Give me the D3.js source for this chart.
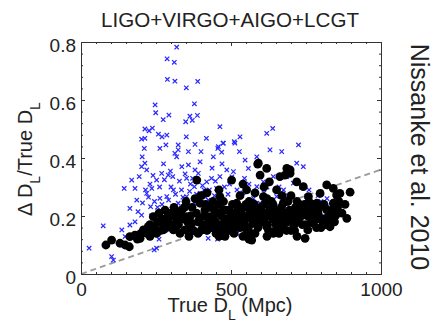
<!DOCTYPE html>
<html>
<head>
<meta charset="utf-8">
<script src="https://cdn.jsdelivr.net/npm/d3@7"></script>
<style>
  body { margin: 0; background: #fff; }
  svg { font-family: "Liberation Sans", Arial, sans-serif; }
  .axis path { stroke: #333; }
  .axis line { stroke: #333; }
  .axis text { font-size: 19px; fill: #222; }
</style>
</head>
<body>
<div id="chart"></div>
<script>
// x: true luminosity distance (Mpc), y: fractional error
const crosses = [
  [319,0.782],[287,0.742],[311,0.730],[288,0.671],[313,0.665],[351,0.642],[389,0.664],
  [247,0.583],[249,0.556],[378,0.587],[293,0.548],[274,0.532],[349,0.525],[363,0.544],
  [371,0.530],[388,0.547],[213,0.500],[227,0.494],[238,0.503],[258,0.482],[270,0.473],
  [286,0.479],[202,0.465],[213,0.468],[283,0.445],[324,0.445],[324,0.428],[351,0.473],
  [418,0.468],[463,0.508],[474,0.451],[456,0.433],[469,0.420],[380,0.447],[358,0.422],
  [400,0.422],[211,0.433],[263,0.433],[313,0.416],[511,0.456],
  [27,0.089],[74,0.166],[144,0.295],[163,0.226],[169,0.324],[180,0.295],[194,0.336],
  [202,0.370],[204,0.404],[213,0.382],[219,0.359],[186,0.255],[202,0.203],[219,0.278],
  [232,0.232],[236,0.295],[252,0.324],[263,0.261],[269,0.347],[291,0.341],[306,0.336],
  [319,0.404],[336,0.370],[352,0.330],[358,0.376],[380,0.359],[397,0.387],[391,0.347],
  [378,0.301],[419,0.318],[441,0.404],[458,0.439],[474,0.451],[463,0.336],[452,0.295],
  [486,0.359],[513,0.451],[530,0.473],[528,0.422],[508,0.353],[547,0.393],[558,0.364],
  [586,0.404],[619,0.485],[639,0.502],[630,0.428],[669,0.422],[686,0.336],[725,0.445],
  [719,0.382],[741,0.370],[708,0.313],[752,0.267],[786,0.198],[841,0.186],[641,0.336],
  [608,0.318],[586,0.301],[102,0.060],[108,0.048],[252,0.089],[244,0.083],[136,0.152],
  [147,0.129],[163,0.169],[297,0.186],[324,0.163],[424,0.123],[486,0.152],[352,0.267],
  [378,0.244],[397,0.278],[424,0.255],[286,0.267],[308,0.290],[324,0.244],[597,0.244],
  [652,0.267],[708,0.221],[774,0.244],[552,0.198],[597,0.175],
  [230,0.310],[245,0.250],[275,0.380],[300,0.300],[335,0.290],[345,0.240],[365,0.310],
  [410,0.290],[435,0.330],[445,0.270],[470,0.380],[495,0.310],[520,0.290],[545,0.330],
  [575,0.260],[610,0.280],[660,0.300],[690,0.270],[735,0.300],[760,0.230],[800,0.250],
  [810,0.200],[830,0.230],[280,0.150],[260,0.120],[180,0.180],[395,0.140],[455,0.120],
  [520,0.140],[640,0.150],[700,0.190],[820,0.180],
  [190,0.215],[205,0.245],[215,0.290],[225,0.265],[240,0.340],[255,0.230],[262,0.300],
  [278,0.325],[292,0.255],[298,0.355],[315,0.275],[328,0.320],[340,0.265],[347,0.345],
  [362,0.285],[372,0.330],[385,0.275],[405,0.305],[415,0.265],[428,0.290],[437,0.365],
  [448,0.320],[478,0.300],[490,0.275],[503,0.335],[540,0.280],[560,0.310],[620,0.300],
  [675,0.290],[760,0.290],[790,0.270],[850,0.250],[820,0.260],[235,0.200],[270,0.240]
];

const dots = [
  [83,0.100],[102,0.117],[130,0.106],[147,0.100],[161,0.094],[163,0.129],[180,0.134],
  [197,0.123],[208,0.152],[224,0.163],[241,0.198],[263,0.180],[252,0.140],[274,0.152],
  [297,0.209],[319,0.186],[308,0.152],[336,0.221],[352,0.198],[369,0.175],[347,0.152],
  [386,0.324],[397,0.244],[413,0.221],[430,0.198],[441,0.163],[463,0.267],[474,0.221],
  [491,0.186],[452,0.152],[502,0.324],[519,0.244],[536,0.198],[513,0.163],[552,0.152],
  [552,0.290],[569,0.244],[586,0.215],[574,0.175],[591,0.382],[597,0.341],[619,0.364],
  [628,0.318],[608,0.267],[630,0.221],[597,0.198],[619,0.163],[641,0.140],[569,0.117],
  [652,0.290],[663,0.336],[686,0.364],[697,0.347],[674,0.244],[697,0.198],[663,0.152],
  [719,0.318],[741,0.301],[758,0.267],[730,0.221],[763,0.198],[756,0.152],[747,0.123],
  [797,0.278],[819,0.307],[841,0.295],[852,0.272],[808,0.175],[830,0.163],[819,0.221],
  [852,0.209],[841,0.244],[863,0.278],[897,0.282],[886,0.192],[786,0.244],[774,0.175],
  [589,0.379],[680,0.341],[697,0.359],
  [300,0.17],[320,0.21],[340,0.19],[360,0.16],[370,0.23],[390,0.18],[400,0.15],[410,0.20],
  [420,0.17],[430,0.23],[440,0.19],[450,0.14],[455,0.21],[465,0.17],[475,0.25],[480,0.19],
  [490,0.15],[495,0.22],[500,0.18],[510,0.14],[515,0.21],[520,0.19],[530,0.16],[540,0.23],
  [545,0.17],[555,0.20],[560,0.25],[565,0.14],[575,0.21],[580,0.19],[590,0.16],[600,0.23],
  [605,0.18],[615,0.21],[625,0.15],[635,0.25],[640,0.19],[650,0.17],[655,0.22],[665,0.18],
  [675,0.20],[685,0.15],[690,0.25],[700,0.19],[710,0.17],[715,0.23],[725,0.18],[735,0.20],
  [745,0.24],[750,0.17],[765,0.22],[775,0.20],[785,0.16],[795,0.23],[805,0.19],[815,0.17],
  [825,0.20],[845,0.18],[855,0.23],[870,0.21],
  [330,0.14],[360,0.13],[390,0.14],[420,0.15],[460,0.13],[500,0.15],[540,0.13],[580,0.14],
  [620,0.13],[660,0.14],[700,0.15],[720,0.13],[560,0.12],[480,0.13],
  [200,0.14],[215,0.15],[230,0.17],[245,0.16],[255,0.18],[270,0.19],[285,0.16],[290,0.20],
  [230,0.13],[260,0.21],[280,0.22],[310,0.23],[350,0.25],[380,0.26],[400,0.27],[440,0.25],
  [460,0.29],[530,0.27],[580,0.28],[620,0.26],[700,0.27],[540,0.31],[420,0.28],
  [610,0.30],[640,0.24],[670,0.27],[720,0.25],[760,0.25],[790,0.21],[835,0.19],[880,0.24],
  [325,0.17],[335,0.20],[345,0.23],[355,0.18],[365,0.20],[375,0.15],[385,0.21],[395,0.19],
  [405,0.17],[415,0.24],[425,0.19],[435,0.16],[445,0.22],[448,0.18],[458,0.24],[468,0.20],
  [472,0.15],[483,0.22],[487,0.17],[498,0.20],[505,0.24],[508,0.17],[523,0.22],[527,0.18],
  [535,0.21],[548,0.19],[550,0.24],[558,0.16],[563,0.22],[572,0.18],[578,0.24],[585,0.20],
  [595,0.18],[598,0.21],[610,0.19],[612,0.24],[622,0.17],[628,0.20],[633,0.22],[645,0.21],
  [648,0.15],[658,0.20],[668,0.23],[672,0.16],[680,0.21],[688,0.18],[695,0.22],[705,0.21],
  [712,0.15],[722,0.20],[728,0.24],[738,0.17],[742,0.22],[755,0.20],[768,0.18],[772,0.24],
  [780,0.22],[792,0.19],[800,0.16],[810,0.24],[822,0.18],[838,0.22],[848,0.20],[860,0.25],
  [300,0.20],[315,0.16],[290,0.18],[275,0.17],[265,0.15],[240,0.15],[220,0.14],[188,0.12]
];

// dashed reference line end points
const refLine = [[0,0],[1000,0.36]];

const xMajor = [0, 500, 1000];
const yMajor = [0, 0.2, 0.4, 0.6, 0.8];

const width = 440, height = 325;
const margin = {top: 42, right: 59, bottom: 51, left: 81};
const innerWidth = width - margin.left - margin.right;
const innerHeight = height - margin.top - margin.bottom;

const xScale = d3.scaleLinear().domain([0, 1000]).range([0, innerWidth]);
const yScale = d3.scaleLinear().domain([0, 0.8]).range([innerHeight, 0]);

const svg = d3.select("#chart")
  .append("svg")
    .attr("width", width)
    .attr("height", height);

const innerChart = svg
  .append("g")
    .attr("transform", `translate(${margin.left}, ${margin.top})`);

// reference line
innerChart
  .append("line")
    .attr("x1", xScale(refLine[0][0]))
    .attr("y1", yScale(refLine[0][1]))
    .attr("x2", xScale(refLine[1][0]))
    .attr("y2", yScale(refLine[1][1]))
    .attr("stroke", "#9a9a9a")
    .attr("stroke-width", 1.8)
    .attr("stroke-dasharray", "6,4");

// blue crosses
const s = 2.2;
innerChart
  .append("g")
    .attr("stroke", "#2a2aff")
    .attr("stroke-width", 1.25)
  .selectAll("path")
  .data(crosses)
  .join("path")
    .attr("d", d => {
      const cx = xScale(d[0]), cy = yScale(d[1]);
      return `M${cx - s},${cy - s}L${cx + s},${cy + s}M${cx - s},${cy + s}L${cx + s},${cy - s}`;
    });

// black dots
innerChart
  .append("g")
  .selectAll("circle")
  .data(dots)
  .join("circle")
    .attr("cx", d => xScale(d[0]))
    .attr("cy", d => yScale(d[1]))
    .attr("r", 4.4)
    .attr("fill", "#000");

// minor ticks on all four sides
const xMinor = d3.range(0, 1001, 50);
const yMinor = d3.range(0, 0.81, 0.04);

innerChart.append("g").attr("class", "axis minor")
  .attr("transform", `translate(0, ${innerHeight})`)
  .call(d3.axisBottom(xScale).tickValues(xMinor).tickSize(-2).tickFormat(""));
innerChart.append("g").attr("class", "axis minor")
  .call(d3.axisTop(xScale).tickValues(xMinor).tickSize(-2).tickFormat(""));
innerChart.append("g").attr("class", "axis minor")
  .call(d3.axisLeft(yScale).tickValues(yMinor).tickSize(-2).tickFormat(""));
innerChart.append("g").attr("class", "axis minor")
  .attr("transform", `translate(${innerWidth}, 0)`)
  .call(d3.axisRight(yScale).tickValues(yMinor).tickSize(-2).tickFormat(""));

// major ticks with labels
innerChart.append("g").attr("class", "axis")
  .attr("transform", `translate(0, ${innerHeight})`)
  .call(d3.axisBottom(xScale).tickValues(xMajor).tickSize(-4).tickSizeOuter(0).tickPadding(9).tickFormat(d3.format("d")));
innerChart.append("g").attr("class", "axis axis-y")
  .call(d3.axisLeft(yScale).tickValues(yMajor).tickSize(-4).tickSizeOuter(0).tickPadding(5).tickFormat(d => d === 0 ? "0" : d3.format(".1f")(d)));
d3.selectAll(".axis-y text").attr("dy", "0.5em");
innerChart.append("g").attr("class", "axis minor")
  .call(d3.axisTop(xScale).tickValues(xMajor).tickSize(-4).tickSizeOuter(0).tickFormat(""));
innerChart.append("g").attr("class", "axis minor")
  .attr("transform", `translate(${innerWidth}, 0)`)
  .call(d3.axisRight(yScale).tickValues(yMajor).tickSize(-4).tickSizeOuter(0).tickFormat(""));

// unlabeled tick sets carry empty text nodes
d3.selectAll(".minor text").remove();

// title
svg.append("text")
  .attr("x", 230)
  .attr("y", 27)
  .attr("text-anchor", "middle")
  .attr("font-size", 19.5)
  .attr("fill", "#222")
  .attr("textLength", 258)
  .attr("lengthAdjust", "spacingAndGlyphs")
  .text("LIGO+VIRGO+AIGO+LCGT");

// x axis label
const xLabel = svg.append("text")
  .attr("x", 230)
  .attr("y", 312)
  .attr("text-anchor", "middle")
  .attr("font-size", 20)
  .attr("fill", "#222");
xLabel.append("tspan").text("True D");
xLabel.append("tspan").attr("dy", 8).attr("font-size", 14).text("L");
xLabel.append("tspan").attr("dy", -8).text(" (Mpc)");

// y axis label
const yLabel = svg.append("text")
  .attr("transform", "translate(32, 159) rotate(-90)")
  .attr("text-anchor", "middle")
  .attr("font-size", 20)
  .attr("fill", "#222");
yLabel.append("tspan").text("\u0394 D");
yLabel.append("tspan").attr("dy", 8).attr("font-size", 14).text("L");
yLabel.append("tspan").attr("dy", -8).text("/True D");
yLabel.append("tspan").attr("dy", 8).attr("font-size", 14).text("L");

// side note
svg.append("text")
  .attr("transform", "translate(411, 157) rotate(90)")
  .attr("text-anchor", "middle")
  .attr("font-size", 25)
  .attr("fill", "#222")
  .text("Nissanke et al. 2010");
</script>
</body>
</html>
